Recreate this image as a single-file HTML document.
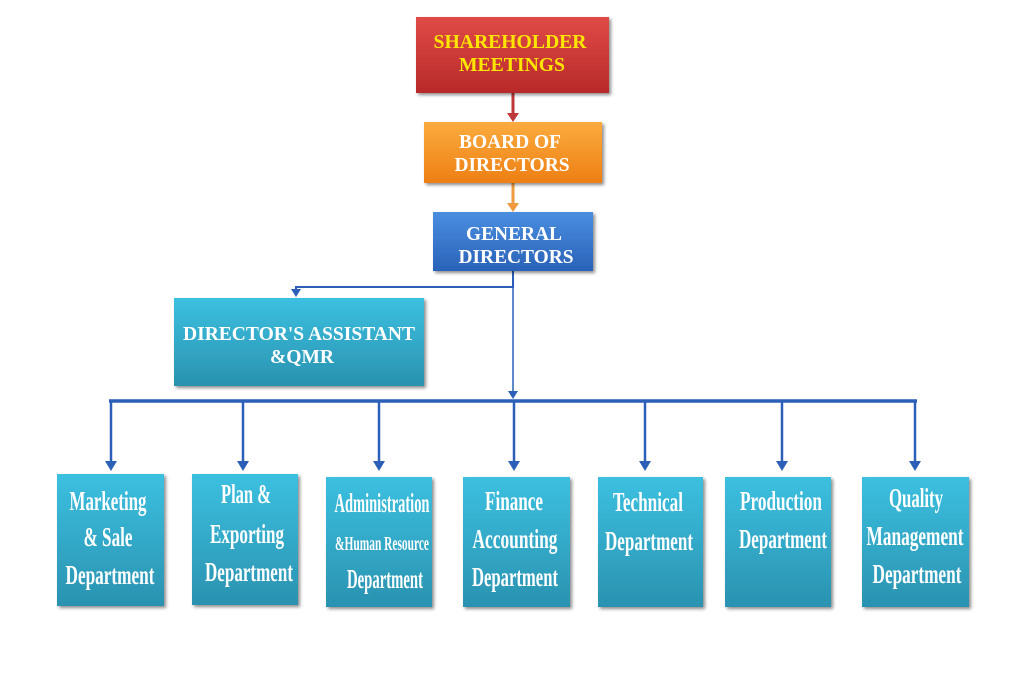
<!DOCTYPE html>
<html><head><meta charset="utf-8"><style>
html,body{margin:0;padding:0;background:#fff;}
svg{display:block;}
.d{font-family:"Liberation Serif",serif;font-weight:bold;font-size:27px;fill:#fff;text-anchor:middle;}
.t{font-family:"Liberation Serif",serif;font-weight:bold;font-size:19.5px;text-anchor:middle;}
</style></head><body>
<svg width="1024" height="683" viewBox="0 0 1024 683" xmlns="http://www.w3.org/2000/svg">
<defs>
<linearGradient id="red" x1="0" y1="0" x2="0" y2="1"><stop offset="0" stop-color="#e04a46"/><stop offset="1" stop-color="#b82a2a"/></linearGradient>
<linearGradient id="org" x1="0" y1="0" x2="0" y2="1"><stop offset="0" stop-color="#fbab3e"/><stop offset="1" stop-color="#ee7f14"/></linearGradient>
<linearGradient id="blu" x1="0" y1="0" x2="0" y2="1"><stop offset="0" stop-color="#4a8ee0"/><stop offset="1" stop-color="#2a62b8"/></linearGradient>
<linearGradient id="tea" x1="0" y1="0" x2="0" y2="1"><stop offset="0" stop-color="#3cc0e0"/><stop offset="1" stop-color="#2a92b0"/></linearGradient>
<filter id="sh"><feDropShadow dx="2" dy="2" stdDeviation="1.5" flood-color="#000" flood-opacity="0.45"/></filter>
</defs>
<line x1="513" y1="93" x2="513" y2="120" stroke="#c0393a" stroke-width="3"/>
<path d="M507,113 L519,113 L513,122 Z" fill="#c0393a"/>
<line x1="513" y1="183" x2="513" y2="210" stroke="#f09a40" stroke-width="3"/>
<path d="M507,203 L519,203 L513,212 Z" fill="#f09a40"/>
<polyline points="513,271 513,287 296,287 296,290" fill="none" stroke="#2b5fb8" stroke-width="2"/>
<path d="M291,289 L301,289 L296,297 Z" fill="#2b5fb8"/>
<line x1="513" y1="271" x2="513" y2="393" stroke="#2b5fb8" stroke-width="1.5"/>
<path d="M508,391 L518,391 L513,399 Z" fill="#2b5fb8"/>
<line x1="109" y1="401" x2="917" y2="401" stroke="#2b5fb8" stroke-width="3.5"/>
<g stroke="#2b5fb8" stroke-width="2.5">
<line x1="111" y1="401" x2="111" y2="463"/><line x1="243" y1="401" x2="243" y2="463"/>
<line x1="379" y1="401" x2="379" y2="463"/><line x1="514" y1="401" x2="514" y2="463"/>
<line x1="645" y1="401" x2="645" y2="463"/><line x1="782" y1="401" x2="782" y2="463"/>
<line x1="915" y1="401" x2="915" y2="463"/>
</g>
<g fill="#2b5fb8">
<path d="M105,461 L117,461 L111,471 Z"/><path d="M237,461 L249,461 L243,471 Z"/>
<path d="M373,461 L385,461 L379,471 Z"/><path d="M508,461 L520,461 L514,471 Z"/>
<path d="M639,461 L651,461 L645,471 Z"/><path d="M776,461 L788,461 L782,471 Z"/>
<path d="M909,461 L921,461 L915,471 Z"/>
</g>
<rect x="416" y="17" width="193" height="76" fill="url(#red)" filter="url(#sh)"/>
<text class="t" x="510" y="48" fill="#ffe600" textLength="153" lengthAdjust="spacingAndGlyphs">SHAREHOLDER</text>
<text class="t" x="512" y="71" fill="#ffe600" textLength="106" lengthAdjust="spacingAndGlyphs">MEETINGS</text>
<rect x="424" y="122" width="178" height="61" fill="url(#org)" filter="url(#sh)"/>
<text class="t" x="510" y="148" fill="#fff" textLength="102" lengthAdjust="spacingAndGlyphs">BOARD OF</text>
<text class="t" x="512" y="171" fill="#fff" textLength="115" lengthAdjust="spacingAndGlyphs">DIRECTORS</text>
<rect x="433" y="212" width="160" height="59" fill="url(#blu)" filter="url(#sh)"/>
<text class="t" x="514" y="240" fill="#fff" textLength="96" lengthAdjust="spacingAndGlyphs">GENERAL</text>
<text class="t" x="516" y="263" fill="#fff" textLength="115" lengthAdjust="spacingAndGlyphs">DIRECTORS</text>
<rect x="174" y="298" width="250" height="88" fill="url(#tea)" filter="url(#sh)"/>
<text class="t" x="299" y="340" fill="#fff" textLength="232" lengthAdjust="spacingAndGlyphs">DIRECTOR'S ASSISTANT</text>
<text class="t" x="302" y="363" fill="#fff" textLength="64" lengthAdjust="spacingAndGlyphs">&amp;QMR</text>
<g fill="url(#tea)" filter="url(#sh)">
<rect x="57" y="474" width="107" height="132"/>
<rect x="192" y="474" width="106" height="131"/>
<rect x="326" y="477" width="106" height="130"/>
<rect x="463" y="477" width="107" height="130"/>
<rect x="598" y="477" width="105" height="130"/>
<rect x="725" y="477" width="106" height="130"/>
<rect x="862" y="477" width="107" height="130"/>
</g>
<text class="d" x="108" y="510" textLength="77" lengthAdjust="spacingAndGlyphs">Marketing</text>
<text class="d" x="108" y="546" textLength="49" lengthAdjust="spacingAndGlyphs">&amp; Sale</text>
<text class="d" x="110" y="584" textLength="89" lengthAdjust="spacingAndGlyphs">Department</text>
<text class="d" x="246" y="503" textLength="50" lengthAdjust="spacingAndGlyphs">Plan &amp;</text>
<text class="d" x="247" y="543" textLength="74" lengthAdjust="spacingAndGlyphs">Exporting</text>
<text class="d" x="249" y="581" textLength="88" lengthAdjust="spacingAndGlyphs">Department</text>
<text class="d" x="382" y="512" textLength="95" lengthAdjust="spacingAndGlyphs">Administration</text>
<text class="d" x="382" y="550" style="font-size:20px" textLength="94" lengthAdjust="spacingAndGlyphs">&amp;Human Resource</text>
<text class="d" x="385" y="588" textLength="76" lengthAdjust="spacingAndGlyphs">Department</text>
<text class="d" x="514" y="510" textLength="58" lengthAdjust="spacingAndGlyphs">Finance</text>
<text class="d" x="515" y="548" textLength="85" lengthAdjust="spacingAndGlyphs">Accounting</text>
<text class="d" x="515" y="586" textLength="86" lengthAdjust="spacingAndGlyphs">Department</text>
<text class="d" x="648" y="511" textLength="70" lengthAdjust="spacingAndGlyphs">Technical</text>
<text class="d" x="649" y="550" textLength="88" lengthAdjust="spacingAndGlyphs">Department</text>
<text class="d" x="781" y="510" textLength="82" lengthAdjust="spacingAndGlyphs">Production</text>
<text class="d" x="783" y="548" textLength="88" lengthAdjust="spacingAndGlyphs">Department</text>
<text class="d" x="916" y="507" textLength="54" lengthAdjust="spacingAndGlyphs">Quality</text>
<text class="d" x="915" y="545" textLength="97" lengthAdjust="spacingAndGlyphs">Management</text>
<text class="d" x="917" y="583" textLength="89" lengthAdjust="spacingAndGlyphs">Department</text>
</svg>
</body></html>
